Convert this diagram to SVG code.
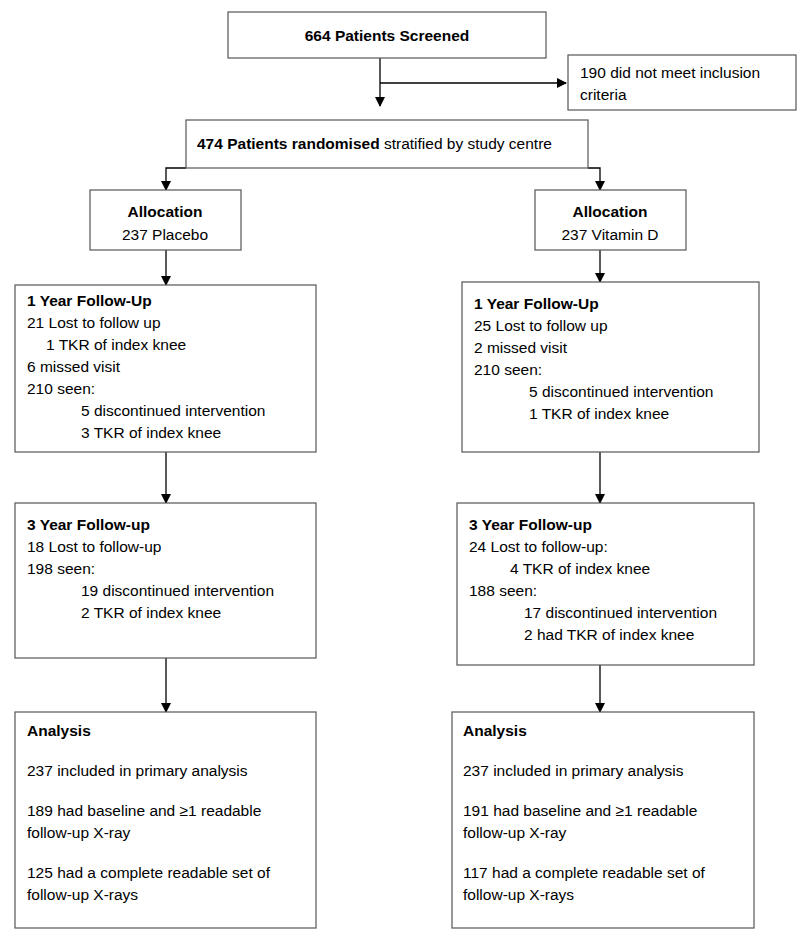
<svg xmlns="http://www.w3.org/2000/svg" width="800" height="940" viewBox="0 0 800 940">
<defs>
<marker id="ah" markerWidth="10" markerHeight="10" refX="9" refY="5" orient="auto" markerUnits="userSpaceOnUse"><path d="M0,0 L10,5 L0,10 z" fill="#000"/></marker>
<style>
rect{fill:#fff;stroke:#555;stroke-width:1.2}
text{font-family:"Liberation Sans",Arial,sans-serif;font-size:15.5px;fill:#000}
.b{font-weight:bold}
.c{text-anchor:middle}
line,polyline{stroke:#000;stroke-width:1.3;fill:none}
</style>
</defs>
<rect width="800" height="940" style="fill:#fff;stroke:none"/>
<g id="connectors">
<line x1="380" y1="58" x2="380" y2="106" marker-end="url(#ah)"/>
<line x1="380" y1="83" x2="566" y2="83" marker-end="url(#ah)"/>
<polyline points="186,168 166,168 166,190" marker-end="url(#ah)"/>
<polyline points="588,168 600,168 600,190" marker-end="url(#ah)"/>
<line x1="166" y1="250" x2="166" y2="285" marker-end="url(#ah)"/>
<line x1="600" y1="250" x2="600" y2="282" marker-end="url(#ah)"/>
<line x1="166" y1="452" x2="166" y2="503" marker-end="url(#ah)"/>
<line x1="600" y1="452" x2="600" y2="503" marker-end="url(#ah)"/>
<line x1="166" y1="658" x2="166" y2="712" marker-end="url(#ah)"/>
<line x1="600" y1="665" x2="600" y2="712" marker-end="url(#ah)"/>
</g>
<g id="screened"><rect x="228" y="12" width="318" height="46"/><text class="b c" x="387" y="41">664 Patients Screened</text></g>
<g id="excluded"><rect x="568" y="55" width="228" height="55"/><text x="580" y="78">190 did not meet inclusion</text><text x="580" y="100">criteria</text></g>
<g id="randomised"><rect x="186" y="120" width="402" height="48"/><text x="197" y="149"><tspan class="b">474 Patients randomised</tspan> stratified by study centre</text></g>
<g id="allocPlacebo"><rect x="90" y="190" width="151" height="60"/><text class="b c" x="165" y="217">Allocation</text><text class="c" x="165" y="240">237 Placebo</text></g>
<g id="allocVitD"><rect x="535" y="190" width="151" height="60"/><text class="b c" x="610" y="217">Allocation</text><text class="c" x="610" y="240">237 Vitamin D</text></g>
<g id="y1Placebo"><rect x="15" y="285" width="301" height="167"/>
<text class="b" x="27" y="306">1 Year Follow-Up</text>
<text x="27" y="328">21 Lost to follow up</text>
<text x="46" y="350">1 TKR of index knee</text>
<text x="27" y="372">6 missed visit</text>
<text x="27" y="394">210 seen:</text>
<text x="81" y="416">5 discontinued intervention</text>
<text x="81" y="438">3 TKR of index knee</text></g>
<g id="y1VitD"><rect x="462" y="282" width="297" height="170"/>
<text class="b" x="474" y="309">1 Year Follow-Up</text>
<text x="474" y="331">25 Lost to follow up</text>
<text x="474" y="353">2 missed visit</text>
<text x="474" y="375">210 seen:</text>
<text x="529" y="397">5 discontinued intervention</text>
<text x="529" y="419">1 TKR of index knee</text></g>
<g id="y3Placebo"><rect x="15" y="503" width="301" height="155"/>
<text class="b" x="27" y="530">3 Year Follow-up</text>
<text x="27" y="552">18 Lost to follow-up</text>
<text x="27" y="574">198 seen:</text>
<text x="81" y="596">19 discontinued intervention</text>
<text x="81" y="618">2 TKR of index knee</text></g>
<g id="y3VitD"><rect x="457" y="503" width="297" height="162"/>
<text class="b" x="469" y="530">3 Year Follow-up</text>
<text x="469" y="552">24 Lost to follow-up:</text>
<text x="510" y="574">4 TKR of index knee</text>
<text x="469" y="596">188 seen:</text>
<text x="524" y="618">17 discontinued intervention</text>
<text x="524" y="640">2 had TKR of index knee</text></g>
<g id="anPlacebo"><rect x="15" y="712" width="301" height="216"/>
<text class="b" x="27" y="736">Analysis</text>
<text x="27" y="776">237 included in primary analysis</text>
<text x="27" y="816">189 had baseline and ≥1 readable</text>
<text x="27" y="838">follow-up X-ray</text>
<text x="27" y="878">125 had a complete readable set of</text>
<text x="27" y="900">follow-up X-rays</text></g>
<g id="anVitD"><rect x="452" y="712" width="302" height="216"/>
<text class="b" x="463" y="736">Analysis</text>
<text x="463" y="776">237 included in primary analysis</text>
<text x="463" y="816">191 had baseline and ≥1 readable</text>
<text x="463" y="838">follow-up X-ray</text>
<text x="463" y="878">117 had a complete readable set of</text>
<text x="463" y="900">follow-up X-rays</text></g>
</svg>
